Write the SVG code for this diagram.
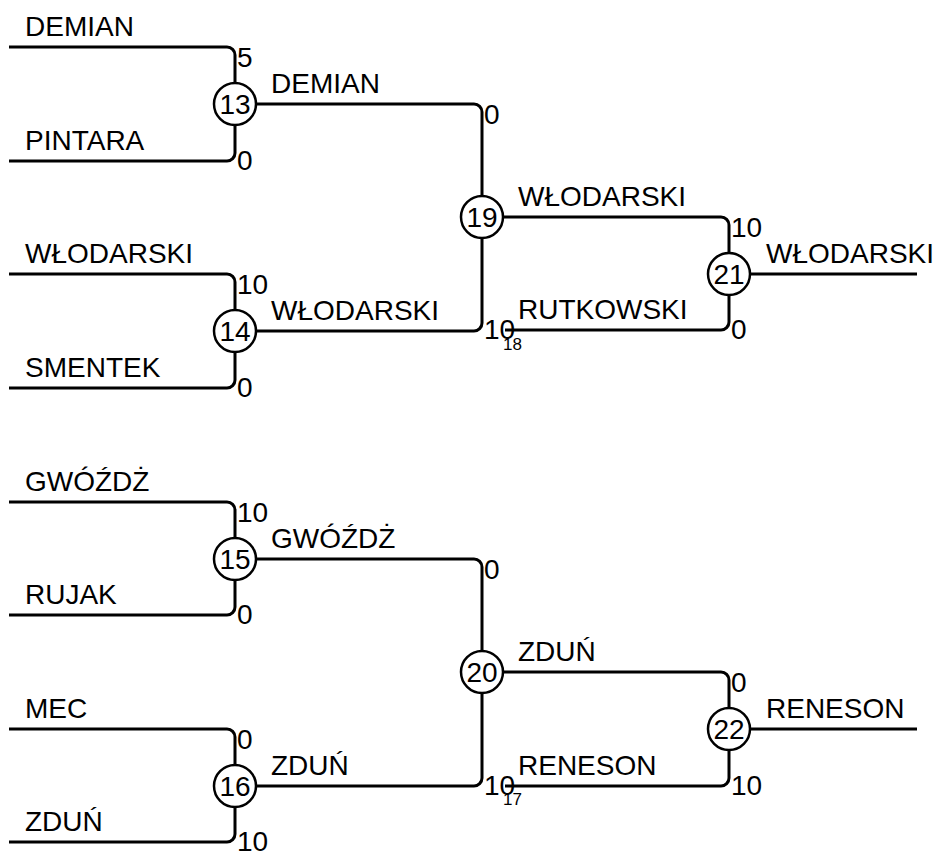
<svg xmlns="http://www.w3.org/2000/svg" width="933" height="857" viewBox="0 0 933 857">
<style>
.c{fill:none;stroke:#000;stroke-width:3}
.n{fill:#fff;stroke:#000;stroke-width:2.5}
text{font-family:"Liberation Sans",Arial,sans-serif;font-size:28px;fill:#000}
.m{text-anchor:middle}
.s{font-size:17px}
</style>
<rect width="933" height="857" fill="#fff"/>
<g id="connectors">
<path class="c" d="M9,47 H227 A8,8 0 0 1 235,55 V83 M9,161 H227 A8,8 0 0 0 235,153 V125"/>
<path class="c" d="M9,274 H227 A8,8 0 0 1 235,282 V310 M9,388 H227 A8,8 0 0 0 235,380 V352"/>
<path class="c" d="M9,502 H227 A8,8 0 0 1 235,510 V538 M9,615 H227 A8,8 0 0 0 235,607 V580"/>
<path class="c" d="M9,729 H227 A8,8 0 0 1 235,737 V765 M9,842 H227 A8,8 0 0 0 235,834 V807"/>
<path class="c" d="M256,104 H474 A8,8 0 0 1 482,112 V196 M256,331 H474 A8,8 0 0 0 482,323 V238"/>
<path class="c" d="M256,559 H474 A8,8 0 0 1 482,567 V651 M256,786 H474 A8,8 0 0 0 482,778 V693"/>
<path class="c" d="M503,217 H721 A8,8 0 0 1 729,225 V253 M505,330 H721 A8,8 0 0 0 729,322 V295"/>
<path class="c" d="M503,672 H721 A8,8 0 0 1 729,680 V708 M505,786 H721 A8,8 0 0 0 729,778 V750"/>
<path class="c" d="M750,274 H917 M750,729 H917"/>
</g>
<g id="labels">
<text x="25" y="36">DEMIAN</text>
<text x="25" y="150">PINTARA</text>
<text x="25" y="263">WŁODARSKI</text>
<text x="25" y="377">SMENTEK</text>
<text x="25" y="491">GWÓŹDŻ</text>
<text x="25" y="604">RUJAK</text>
<text x="25" y="718">MEC</text>
<text x="25" y="831">ZDUŃ</text>
<text x="271" y="93">DEMIAN</text>
<text x="271" y="320">WŁODARSKI</text>
<text x="271" y="548">GWÓŹDŻ</text>
<text x="271" y="775">ZDUŃ</text>
<text x="518" y="206">WŁODARSKI</text>
<text x="518" y="319">RUTKOWSKI</text>
<text x="518" y="661">ZDUŃ</text>
<text x="518" y="775">RENESON</text>
<text x="766" y="263">WŁODARSKI</text>
<text x="766" y="718">RENESON</text>
<text x="237" y="67">5</text>
<text x="237" y="170">0</text>
<text x="237" y="294">10</text>
<text x="237" y="397">0</text>
<text x="237" y="522">10</text>
<text x="237" y="624">0</text>
<text x="237" y="749">0</text>
<text x="237" y="851">10</text>
<text x="484" y="124">0</text>
<text x="484" y="339">10</text>
<text class="s" x="503" y="350">18</text>
<text x="484" y="579">0</text>
<text x="484" y="795">10</text>
<text class="s" x="503" y="805">17</text>
<text x="731" y="237">10</text>
<text x="731" y="339">0</text>
<text x="731" y="692">0</text>
<text x="731" y="795">10</text>
</g>
<g id="m13"><circle class="n" cx="235" cy="104" r="21"/><text class="m" x="235" y="114">13</text></g>
<g id="m14"><circle class="n" cx="235" cy="331" r="21"/><text class="m" x="235" y="341">14</text></g>
<g id="m15"><circle class="n" cx="235" cy="559" r="21"/><text class="m" x="235" y="569">15</text></g>
<g id="m16"><circle class="n" cx="235" cy="786" r="21"/><text class="m" x="235" y="796">16</text></g>
<g id="m19"><circle class="n" cx="482" cy="217" r="21"/><text class="m" x="482" y="227">19</text></g>
<g id="m20"><circle class="n" cx="482" cy="672" r="21"/><text class="m" x="482" y="682">20</text></g>
<g id="m21"><circle class="n" cx="729" cy="274" r="21"/><text class="m" x="729" y="284">21</text></g>
<g id="m22"><circle class="n" cx="729" cy="729" r="21"/><text class="m" x="729" y="739">22</text></g>
</svg>
